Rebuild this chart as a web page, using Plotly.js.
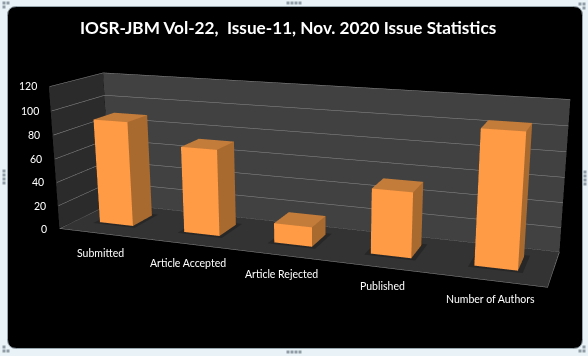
<!DOCTYPE html>
<html><head><meta charset="utf-8"><script src="https://cdn.plot.ly/plotly-3.0.1.min.js"></script>
<style>html,body{margin:0;padding:0;background:#e9f2f6;overflow:hidden;width:588px;height:356px}#w{position:absolute;left:0;top:0;width:588px;height:356px;overflow:hidden}#c{position:absolute;left:-77px;top:-206px;width:786px;height:786px}</style></head><body><div id="w"><div id="c"></div></div>
<script>
const categories=["Submitted","Article Accepted","Article Rejected","Published","Number of Authors"];
const values=[90,73,17,53,105];
const zTicks=[0,20,40,60,80,100,120];
const titleText='IOSR-JBM Vol-22,  Issue-11, Nov. 2020 Issue Statistics';
const Wd=786,Hd=786,left=-77,top_=-206;
const fx=s=>(s-left)/Wd, fy=s=>1-(s-top_)/Hd;
const light={ambient:1,diffuse:0,specular:0,fresnel:0,roughness:1};
function quad(x,y,z,c){return {type:'mesh3d',x,y,z,i:[0,0],j:[1,2],k:[2,3],color:c,flatshading:true,lighting:light,hoverinfo:'skip',showscale:false};}
function box(x0,x1,y0,y1,z0,z1,cf,cs,ct){return {type:'mesh3d',x:[x0,x1,x1,x0,x0,x1,x1,x0],y:[y0,y0,y1,y1,y0,y0,y1,y1],z:[z0,z0,z0,z0,z1,z1,z1,z1],
 i:[0,0,1,1,4,4,0,0,2,2,3,3],j:[1,5,2,6,5,6,1,2,3,7,0,4],k:[5,4,6,5,6,7,2,3,7,6,4,7],facecolor:[cf,cf,cs,cs,ct,ct,cs,cs,cs,cs,cs,cs],flatshading:true,lighting:light,hoverinfo:'skip',showscale:false};}
const traces=[];
traces.push(quad([0,5,5,0],[0,0,1,1],[0,0,0,0],'#333333'));
traces.push(quad([0,5,5,0],[1,1,1,1],[0,0,120,120],'#414141'));
traces.push(quad([0,0,0,0],[0,1,1,0],[0,0,120,120],'#2b2b2b'));
values.forEach((v,i)=>traces.push(quad([i+.25,i+.75,i+.75,i+.25],[.25,.25,.75,.75],[1,1,1,1],'#272727')));
values.forEach((v,i)=>traces.push(box(i+.3,i+.7,.3,.7,0,v,'#ff9a45','#a96a2f','#c47c3a')));
zTicks.forEach(t=>traces.push({type:'scatter3d',mode:'lines',x:[0.01,0.01,5],y:[0,.99,.99],z:[t,t,t],line:{color:'#8c8c8c',width:1},hoverinfo:'skip',showlegend:false}));
traces.push({type:'scatter3d',mode:'lines',x:[0,5,5],y:[0,0,1],z:[0,0,0],line:{color:'#8c8c8c',width:1},hoverinfo:'skip',showlegend:false});
const ax0={visible:false,showgrid:false,zeroline:false,showbackground:false,showticklabels:false,showspikes:false};
const sa=[];
zTicks.forEach(t=>sa.push({x:0,y:0,z:t,text:String(t),showarrow:false,xanchor:'right',yanchor:'middle',xshift:-10,font:{family:'Lato',size:10.5,color:'#fff'}}));
categories.forEach((c,i)=>sa.push({x:i+.5,y:0,z:0,text:c,showarrow:false,xanchor:'center',yanchor:'middle',yshift:-19,font:{family:'Lato',size:10.5,color:'#fff'}}));
const P=(a,b)=>fx(a).toFixed(5)+' '+fy(b).toFixed(5);
function roundRect(x0,y0,x1,y1,r){return `M${P(x0+r,y0)} L${P(x1-r,y0)} Q${P(x1,y0)} ${P(x1,y0+r)} L${P(x1,y1-r)} Q${P(x1,y1)} ${P(x1-r,y1)} L${P(x0+r,y1)} Q${P(x0,y1)} ${P(x0,y1-r)} L${P(x0,y0+r)} Q${P(x0,y0)} ${P(x0+r,y0)} Z`;}
const shapes=[{type:'path',xref:'paper',yref:'paper',path:roundRect(7.5,6.5,582.5,348.5,9),fillcolor:'#000',line:{color:'#97a5ad',width:1},layer:'below'}];
const grip=[[4,171],[4,175],[4,179],[4,183],[585,172],[585,176],[585,180],[585,184],[288,3],[292,3],[296,3],[300,3],[288,352],[292,352],[296,352],[300,352],[4,3],[8,3],[4,7],[580,4],[584,4],[584,8],[580,351],[584,351],[584,347],[4,351],[8,351],[4,347]];
grip.forEach(g=>shapes.push({type:'rect',xref:'paper',yref:'paper',x0:fx(g[0]-1.5),x1:fx(g[0]+1.5),y0:fy(g[1]-1.5),y1:fy(g[1]+1.5),fillcolor:'#8f9ca6',line:{width:0},layer:'below'}));
Plotly.newPlot('c',traces,{width:Wd,height:Hd,margin:{l:0,r:0,t:0,b:0},paper_bgcolor:'#e9f2f6',showlegend:false,shapes,
 annotations:[{xref:'paper',yref:'paper',x:fx(288),y:fy(28),xanchor:'center',yanchor:'middle',showarrow:false,text:titleText,font:{family:'Lato',size:17.2,color:'#fff',weight:700}}],
 scene:{domain:{x:[0,1],y:[0,1]},bgcolor:'rgba(0,0,0,0)',dragmode:'orbit',aspectmode:'manual',aspectratio:{x:3.343,y:0.673,z:1},camera:{eye:{x:2.148,y:-5.685,z:1.524},center:{x:0.103,y:0.029,z:-0.130},up:{x:0.001,y:-0.003,z:1},projection:{type:'perspective'}},annotations:sa,
 xaxis:{...ax0,range:[0,5]},yaxis:{...ax0,range:[0,1]},zaxis:{...ax0,range:[0,120]}}},{displayModeBar:false});
</script></body></html>
